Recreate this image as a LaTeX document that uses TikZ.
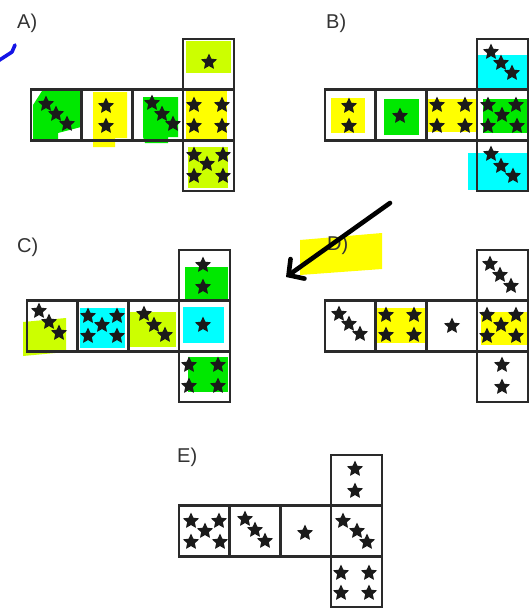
\documentclass[tikz,border=0pt]{standalone}
\usepackage{fontspec}
\setmainfont{Liberation Sans}
\usetikzlibrary{shapes.geometric,arrows.meta}
\definecolor{ygr}{HTML}{CCFF00}
\definecolor{grn}{HTML}{00E800}
\definecolor{yel}{HTML}{FFFF00}
\definecolor{cya}{HTML}{00FFFF}
\definecolor{frame}{HTML}{2A2A2A}
\definecolor{stc}{HTML}{1A1A1A}
\definecolor{txt}{HTML}{333333}
\definecolor{pen}{HTML}{1414E6}
\tikzset{
  cell/.style={draw=frame, line width=2.6pt, minimum width=50.7pt, minimum height=50.7pt, inner sep=0pt},
  stardot/.style={star, star points=5, star point ratio=2.1, fill=stc, draw=none, minimum size=17pt, inner sep=0pt},
  lbl/.style={anchor=base west, text=txt, font=\fontsize{20}{24}\selectfont, inner sep=0pt},
  hl/.style={draw=none}
}
\newcommand\mknet[3]{%
  \node[cell] (#1t) at (#2+177.45,#3+25.35) {};
  \node[cell] (#11) at (#2+25.35,#3+76.05) {};
  \node[cell] (#12) at (#2+76.05,#3+76.05) {};
  \node[cell] (#13) at (#2+126.75,#3+76.05) {};
  \node[cell] (#14) at (#2+177.45,#3+76.05) {};
  \node[cell] (#1b) at (#2+177.45,#3+126.75) {};
}
\newcommand\stars[2]{%
  \foreach \p [count=\k] in {#2} \node[stardot] (#1s\k) at (\p) {};
}
\begin{document}
\begin{tikzpicture}[x=1pt,y=-1pt]
\useasboundingbox (0,0) rectangle (529,608);
\fill[white] (0,0) rectangle (529,608);

% ---------- highlights ----------
% A
\fill[ygr,hl] (186,41) rectangle (231,73);
\fill[grn,hl] (42,91) -- (81,91) -- (81,127) -- (58,133) -- (58,139) -- (33,139) -- (33,105) -- cycle;
\fill[yel,hl] (93,92) -- (127,92) -- (127,138) -- (115,138) -- (115,147) -- (93,147) -- cycle;
\fill[grn,hl] (143,97) -- (178,97) -- (178,137) -- (168,137) -- (168,143) -- (145,143) -- (143,137) -- cycle;
\fill[yel,hl] (186,91) rectangle (227,139);
\fill[ygr,hl] (188,147) rectangle (228,188);
% B
\fill[cya,hl] (477,55) rectangle (528,88);
\fill[yel,hl] (331,98) rectangle (365,133);
\fill[grn,hl] (384,99) rectangle (419,135);
\fill[yel,hl] (427,99) rectangle (477,132);
\fill[grn,hl] (483,99) rectangle (528,133);
\fill[cya,hl] (468,153) rectangle (528,190);
% C
\fill[grn,hl] (185,267) rectangle (228,299);
\fill[ygr,hl] (23,322) -- (66,318) -- (66,352) -- (23,356) -- cycle;
\fill[cya,hl] (80,308) rectangle (125,348);
\fill[ygr,hl] (130,312) rectangle (176,347);
\fill[cya,hl] (183,307) rectangle (224,343);
\fill[grn,hl] (188,357) rectangle (228,392);
% D
\fill[yel,hl] (377,308) rectangle (425,343);
\fill[yel,hl] (481,312) rectangle (527,345);
\fill[yel,hl] (300,240) -- (382,233) -- (382,269) -- (300,275) -- cycle;

% ---------- labels ----------
\node[lbl] (labA) at (17,28) {A)};
\node[lbl] (labB) at (326,28) {B)};
\node[lbl] (labC) at (17,252) {C)};
\node[lbl] (labD) at (327,250) {D)};
\node[lbl] (labE) at (177,462) {E)};

% ---------- nets ----------
\mknet{A}{31}{39}
\mknet{B}{325}{39}
\mknet{C}{27}{250}
\mknet{D}{325}{250}
\mknet{E}{179}{455}

% ---------- stars ----------
% A
\stars{At}{{209,62}}
\stars{A1}{{46,104},{56,114},{67,124}}
\stars{A2}{{106,106},{106,126}}
\stars{A3}{{152,103},{162,114},{173,124}}
\stars{A4}{{194,105},{222,105},{194,126},{222,126}}
\stars{Ab}{{194,155},{223,155},{207,164},{194,176},{223,176}}
% B
\stars{Bt}{{491,52},{501,63},{512,73}}
\stars{B1}{{349,106},{349,126}}
\stars{B2}{{400,116}}
\stars{B3}{{437,105},{465,105},{437,126},{465,126}}
\stars{B4}{{488,105},{516,105},{502,115},{488,126},{517,126}}
\stars{Bb}{{491,154},{501,166},{513,176}}
% C
\stars{Ct}{{203,265},{203,287}}
\stars{C1}{{39,311},{49,322},{59,333}}
\stars{C2}{{88,316},{117,316},{102,325},{88,336},{117,336}}
\stars{C3}{{144,314},{154,325},{165,335}}
\stars{C4}{{203,325}}
\stars{Cb}{{189,365},{218,365},{189,386},{218,386}}
% D
\stars{Dt}{{490,264},{500,275},{511,286}}
\stars{D1}{{339,314},{349,324},{360,334}}
\stars{D2}{{386,315},{414,315},{386,335},{414,335}}
\stars{D3}{{452,326}}
\stars{D4}{{487,315},{516,315},{501,325},{487,336},{516,336}}
\stars{Db}{{502,365},{502,387}}
% E
\stars{Et}{{355,469},{355,491}}
\stars{E1}{{191,521},{219,521},{205,531},{191,542},{220,542}}
\stars{E2}{{245,519},{255,530},{265,541}}
\stars{E3}{{305,533}}
\stars{E4}{{343,521},{357,531},{367,542}}
\stars{Eb}{{341,573},{369,573},{341,593},{369,593}}

% ---------- pen strokes ----------
\coordinate (bl1) at (-2,61);
\coordinate (bl2) at (12,52);
\coordinate (bl3) at (15,45);
\draw[pen, line width=3.6pt, line cap=round, line join=round] (bl1) -- (bl2) -- (bl3);

\coordinate (arS) at (390,203);
\coordinate (arE) at (286,277);
\draw[black, line width=4.6pt, line cap=round, -{Straight Barb[length=11pt,width=24pt,line cap=round]}] (arS) -- (arE);
\end{tikzpicture}
\end{document}
